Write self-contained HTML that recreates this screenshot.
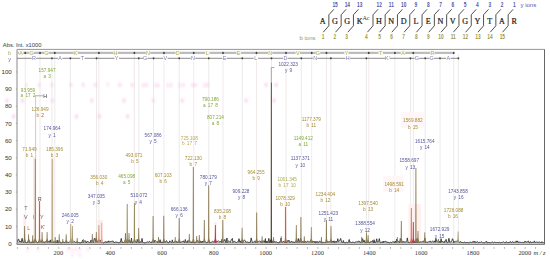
<!DOCTYPE html>
<html><head><meta charset="utf-8"><style>
html,body{margin:0;padding:0;background:#fff;width:550px;height:259px;overflow:hidden}
svg{display:block}
</style></head><body>
<svg width="550" height="259" viewBox="0 0 550 259">
<defs><filter id="bl" x="-5%" y="-5%" width="110%" height="110%"><feGaussianBlur stdDeviation="0.8"/></filter></defs>
<rect width="550" height="259" fill="#fff"/>
<text transform="translate(322.70,24.3) scale(0.9,1)" font-family='"Liberation Serif", serif' font-weight="normal" font-size="9.0" fill="#222" stroke="#222" stroke-width="0.25" text-anchor="middle">A</text>
<text transform="translate(335.00,24.3) scale(0.9,1)" font-family='"Liberation Serif", serif' font-weight="normal" font-size="9.0" fill="#222" stroke="#222" stroke-width="0.25" text-anchor="middle">G</text>
<text transform="translate(347.30,24.3) scale(0.9,1)" font-family='"Liberation Serif", serif' font-weight="normal" font-size="9.0" fill="#222" stroke="#222" stroke-width="0.25" text-anchor="middle">G</text>
<text transform="translate(359.60,24.3) scale(0.9,1)" font-family='"Liberation Serif", serif' font-weight="normal" font-size="9.0" fill="#222" stroke="#222" stroke-width="0.25" text-anchor="middle">K</text>
<text transform="translate(379.00,24.3) scale(0.9,1)" font-family='"Liberation Serif", serif' font-weight="normal" font-size="9.0" fill="#222" stroke="#222" stroke-width="0.25" text-anchor="middle">H</text>
<text transform="translate(391.30,24.3) scale(0.9,1)" font-family='"Liberation Serif", serif' font-weight="normal" font-size="9.0" fill="#222" stroke="#222" stroke-width="0.25" text-anchor="middle">N</text>
<text transform="translate(403.60,24.3) scale(0.9,1)" font-family='"Liberation Serif", serif' font-weight="normal" font-size="9.0" fill="#222" stroke="#222" stroke-width="0.25" text-anchor="middle">D</text>
<text transform="translate(415.90,24.3) scale(0.9,1)" font-family='"Liberation Serif", serif' font-weight="normal" font-size="9.0" fill="#222" stroke="#222" stroke-width="0.25" text-anchor="middle">L</text>
<text transform="translate(428.20,24.3) scale(0.9,1)" font-family='"Liberation Serif", serif' font-weight="normal" font-size="9.0" fill="#222" stroke="#222" stroke-width="0.25" text-anchor="middle">E</text>
<text transform="translate(440.50,24.3) scale(0.9,1)" font-family='"Liberation Serif", serif' font-weight="normal" font-size="9.0" fill="#222" stroke="#222" stroke-width="0.25" text-anchor="middle">N</text>
<text transform="translate(452.80,24.3) scale(0.9,1)" font-family='"Liberation Serif", serif' font-weight="normal" font-size="9.0" fill="#222" stroke="#222" stroke-width="0.25" text-anchor="middle">V</text>
<text transform="translate(465.10,24.3) scale(0.9,1)" font-family='"Liberation Serif", serif' font-weight="normal" font-size="9.0" fill="#222" stroke="#222" stroke-width="0.25" text-anchor="middle">G</text>
<text transform="translate(477.40,24.3) scale(0.9,1)" font-family='"Liberation Serif", serif' font-weight="normal" font-size="9.0" fill="#222" stroke="#222" stroke-width="0.25" text-anchor="middle">Y</text>
<text transform="translate(489.70,24.3) scale(0.9,1)" font-family='"Liberation Serif", serif' font-weight="normal" font-size="9.0" fill="#222" stroke="#222" stroke-width="0.25" text-anchor="middle">T</text>
<text transform="translate(502.00,24.3) scale(0.9,1)" font-family='"Liberation Serif", serif' font-weight="normal" font-size="9.0" fill="#222" stroke="#222" stroke-width="0.25" text-anchor="middle">A</text>
<text transform="translate(514.30,24.3) scale(0.9,1)" font-family='"Liberation Serif", serif' font-weight="normal" font-size="9.0" fill="#222" stroke="#222" stroke-width="0.25" text-anchor="middle">R</text>
<text x="362.4" y="20.2" font-family='"Liberation Serif", serif' font-size="6.2" fill="#3a3a3a">Ac</text>
<polyline points="333.85,9.3 328.85,14.8 328.85,25.8 323.25,32.2" fill="none" stroke="#505050" stroke-width="1.0"/>
<text transform="translate(335.05,7.0) scale(0.72,1)" font-family='"Liberation Sans", sans-serif' font-weight="bold" font-size="6.7" fill="#5656a8" text-anchor="middle">15</text>
<text transform="translate(323.00,39.4) scale(0.72,1)" font-family='"Liberation Sans", sans-serif' font-weight="bold" font-size="6.7" fill="#a09848" text-anchor="middle">1</text>
<polyline points="346.15,9.3 341.15,14.8 341.15,25.8 335.55,32.2" fill="none" stroke="#505050" stroke-width="1.0"/>
<text transform="translate(347.35,7.0) scale(0.72,1)" font-family='"Liberation Sans", sans-serif' font-weight="bold" font-size="6.7" fill="#5656a8" text-anchor="middle">14</text>
<text transform="translate(334.80,39.4) scale(0.72,1)" font-family='"Liberation Sans", sans-serif' font-weight="bold" font-size="6.7" fill="#a09848" text-anchor="middle">2</text>
<polyline points="358.45,9.3 353.45,14.8 353.45,25.8 347.85,32.2" fill="none" stroke="#505050" stroke-width="1.0"/>
<text transform="translate(359.65,7.0) scale(0.72,1)" font-family='"Liberation Sans", sans-serif' font-weight="bold" font-size="6.7" fill="#5656a8" text-anchor="middle">13</text>
<text transform="translate(346.50,39.4) scale(0.72,1)" font-family='"Liberation Sans", sans-serif' font-weight="bold" font-size="6.7" fill="#a09848" text-anchor="middle">3</text>
<polyline points="378.00,9.3 373.00,14.8 373.00,25.8 367.40,32.2" fill="none" stroke="#505050" stroke-width="1.0"/>
<text transform="translate(379.20,7.0) scale(0.72,1)" font-family='"Liberation Sans", sans-serif' font-weight="bold" font-size="6.7" fill="#5656a8" text-anchor="middle">12</text>
<text transform="translate(366.30,39.4) scale(0.72,1)" font-family='"Liberation Sans", sans-serif' font-weight="bold" font-size="6.7" fill="#a09848" text-anchor="middle">4</text>
<polyline points="390.15,9.3 385.15,14.8 385.15,25.8 379.55,32.2" fill="none" stroke="#505050" stroke-width="1.0"/>
<text transform="translate(391.35,7.0) scale(0.72,1)" font-family='"Liberation Sans", sans-serif' font-weight="bold" font-size="6.7" fill="#5656a8" text-anchor="middle">11</text>
<text transform="translate(379.60,39.4) scale(0.72,1)" font-family='"Liberation Sans", sans-serif' font-weight="bold" font-size="6.7" fill="#a09848" text-anchor="middle">5</text>
<polyline points="402.45,9.3 397.45,14.8 397.45,25.8 391.85,32.2" fill="none" stroke="#505050" stroke-width="1.0"/>
<text transform="translate(403.65,7.0) scale(0.72,1)" font-family='"Liberation Sans", sans-serif' font-weight="bold" font-size="6.7" fill="#5656a8" text-anchor="middle">10</text>
<text transform="translate(391.50,39.4) scale(0.72,1)" font-family='"Liberation Sans", sans-serif' font-weight="bold" font-size="6.7" fill="#a09848" text-anchor="middle">6</text>
<polyline points="414.75,9.3 409.75,14.8 409.75,25.8 404.15,32.2" fill="none" stroke="#505050" stroke-width="1.0"/>
<text transform="translate(415.95,7.0) scale(0.72,1)" font-family='"Liberation Sans", sans-serif' font-weight="bold" font-size="6.7" fill="#5656a8" text-anchor="middle">9</text>
<text transform="translate(403.70,39.4) scale(0.72,1)" font-family='"Liberation Sans", sans-serif' font-weight="bold" font-size="6.7" fill="#a09848" text-anchor="middle">7</text>
<polyline points="427.05,9.3 422.05,14.8 422.05,25.8 416.45,32.2" fill="none" stroke="#505050" stroke-width="1.0"/>
<text transform="translate(428.25,7.0) scale(0.72,1)" font-family='"Liberation Sans", sans-serif' font-weight="bold" font-size="6.7" fill="#5656a8" text-anchor="middle">8</text>
<text transform="translate(416.30,39.4) scale(0.72,1)" font-family='"Liberation Sans", sans-serif' font-weight="bold" font-size="6.7" fill="#a09848" text-anchor="middle">8</text>
<polyline points="439.35,9.3 434.35,14.8 434.35,25.8 428.75,32.2" fill="none" stroke="#505050" stroke-width="1.0"/>
<text transform="translate(440.55,7.0) scale(0.72,1)" font-family='"Liberation Sans", sans-serif' font-weight="bold" font-size="6.7" fill="#5656a8" text-anchor="middle">7</text>
<text transform="translate(428.30,39.4) scale(0.72,1)" font-family='"Liberation Sans", sans-serif' font-weight="bold" font-size="6.7" fill="#a09848" text-anchor="middle">9</text>
<polyline points="451.65,9.3 446.65,14.8 446.65,25.8 441.05,32.2" fill="none" stroke="#505050" stroke-width="1.0"/>
<text transform="translate(452.85,7.0) scale(0.72,1)" font-family='"Liberation Sans", sans-serif' font-weight="bold" font-size="6.7" fill="#5656a8" text-anchor="middle">6</text>
<text transform="translate(440.90,39.4) scale(0.72,1)" font-family='"Liberation Sans", sans-serif' font-weight="bold" font-size="6.7" fill="#a09848" text-anchor="middle">10</text>
<polyline points="463.95,9.3 458.95,14.8 458.95,25.8 453.35,32.2" fill="none" stroke="#505050" stroke-width="1.0"/>
<text transform="translate(465.15,7.0) scale(0.72,1)" font-family='"Liberation Sans", sans-serif' font-weight="bold" font-size="6.7" fill="#5656a8" text-anchor="middle">5</text>
<text transform="translate(453.20,39.4) scale(0.72,1)" font-family='"Liberation Sans", sans-serif' font-weight="bold" font-size="6.7" fill="#a09848" text-anchor="middle">11</text>
<polyline points="476.25,9.3 471.25,14.8 471.25,25.8 465.65,32.2" fill="none" stroke="#505050" stroke-width="1.0"/>
<text transform="translate(477.45,7.0) scale(0.72,1)" font-family='"Liberation Sans", sans-serif' font-weight="bold" font-size="6.7" fill="#5656a8" text-anchor="middle">4</text>
<text transform="translate(465.50,39.4) scale(0.72,1)" font-family='"Liberation Sans", sans-serif' font-weight="bold" font-size="6.7" fill="#a09848" text-anchor="middle">12</text>
<polyline points="488.55,9.3 483.55,14.8 483.55,25.8 477.95,32.2" fill="none" stroke="#505050" stroke-width="1.0"/>
<text transform="translate(489.75,7.0) scale(0.72,1)" font-family='"Liberation Sans", sans-serif' font-weight="bold" font-size="6.7" fill="#5656a8" text-anchor="middle">3</text>
<text transform="translate(478.00,39.4) scale(0.72,1)" font-family='"Liberation Sans", sans-serif' font-weight="bold" font-size="6.7" fill="#a09848" text-anchor="middle">13</text>
<polyline points="500.85,9.3 495.85,14.8 495.85,25.8 490.25,32.2" fill="none" stroke="#505050" stroke-width="1.0"/>
<text transform="translate(502.05,7.0) scale(0.72,1)" font-family='"Liberation Sans", sans-serif' font-weight="bold" font-size="6.7" fill="#5656a8" text-anchor="middle">2</text>
<text transform="translate(489.90,39.4) scale(0.72,1)" font-family='"Liberation Sans", sans-serif' font-weight="bold" font-size="6.7" fill="#a09848" text-anchor="middle">14</text>
<polyline points="513.15,9.3 508.15,14.8 508.15,25.8 502.55,32.2" fill="none" stroke="#505050" stroke-width="1.0"/>
<text transform="translate(514.35,7.0) scale(0.72,1)" font-family='"Liberation Sans", sans-serif' font-weight="bold" font-size="6.7" fill="#5656a8" text-anchor="middle">1</text>
<text transform="translate(502.30,39.4) scale(0.72,1)" font-family='"Liberation Sans", sans-serif' font-weight="bold" font-size="6.7" fill="#a09848" text-anchor="middle">15</text>
<text x="299.5" y="39.6" font-family='"Liberation Sans", sans-serif' font-size="6" fill="#a09848">b ions</text>
<text x="520.5" y="7.3" font-family='"Liberation Sans", sans-serif' font-size="6" fill="#5656a8">y ions</text>
<text x="2.8" y="46.9" font-family='"Liberation Sans", sans-serif' font-size="5.8" fill="#3a3a3a">Abs. Int. x1000</text>
<text x="11.8" y="245.80" font-family='"Liberation Sans", sans-serif' font-size="6.2" fill="#333" text-anchor="end">0</text>
<line x1="15.8" y1="243.60" x2="17" y2="243.60" stroke="#888" stroke-width="0.6"/>
<text x="11.8" y="228.63" font-family='"Liberation Sans", sans-serif' font-size="6.2" fill="#333" text-anchor="end">10</text>
<line x1="15.8" y1="226.43" x2="17" y2="226.43" stroke="#888" stroke-width="0.6"/>
<text x="11.8" y="211.46" font-family='"Liberation Sans", sans-serif' font-size="6.2" fill="#333" text-anchor="end">20</text>
<line x1="15.8" y1="209.26" x2="17" y2="209.26" stroke="#888" stroke-width="0.6"/>
<text x="11.8" y="194.29" font-family='"Liberation Sans", sans-serif' font-size="6.2" fill="#333" text-anchor="end">30</text>
<line x1="15.8" y1="192.09" x2="17" y2="192.09" stroke="#888" stroke-width="0.6"/>
<text x="11.8" y="177.12" font-family='"Liberation Sans", sans-serif' font-size="6.2" fill="#333" text-anchor="end">40</text>
<line x1="15.8" y1="174.92" x2="17" y2="174.92" stroke="#888" stroke-width="0.6"/>
<text x="11.8" y="159.95" font-family='"Liberation Sans", sans-serif' font-size="6.2" fill="#333" text-anchor="end">50</text>
<line x1="15.8" y1="157.75" x2="17" y2="157.75" stroke="#888" stroke-width="0.6"/>
<text x="11.8" y="142.78" font-family='"Liberation Sans", sans-serif' font-size="6.2" fill="#333" text-anchor="end">60</text>
<line x1="15.8" y1="140.58" x2="17" y2="140.58" stroke="#888" stroke-width="0.6"/>
<text x="11.8" y="125.61" font-family='"Liberation Sans", sans-serif' font-size="6.2" fill="#333" text-anchor="end">70</text>
<line x1="15.8" y1="123.41" x2="17" y2="123.41" stroke="#888" stroke-width="0.6"/>
<text x="11.8" y="108.44" font-family='"Liberation Sans", sans-serif' font-size="6.2" fill="#333" text-anchor="end">80</text>
<line x1="15.8" y1="106.24" x2="17" y2="106.24" stroke="#888" stroke-width="0.6"/>
<text x="11.8" y="91.27" font-family='"Liberation Sans", sans-serif' font-size="6.2" fill="#333" text-anchor="end">90</text>
<line x1="15.8" y1="89.07" x2="17" y2="89.07" stroke="#888" stroke-width="0.6"/>
<text x="11.8" y="74.10" font-family='"Liberation Sans", sans-serif' font-size="6.2" fill="#333" text-anchor="end">100</text>
<line x1="15.8" y1="71.90" x2="17" y2="71.90" stroke="#888" stroke-width="0.6"/>
<line x1="17.34" y1="247.0" x2="17.34" y2="248.9" stroke="#999" stroke-width="0.7"/>
<line x1="27.71" y1="247.0" x2="27.71" y2="248.9" stroke="#999" stroke-width="0.7"/>
<line x1="38.07" y1="247.0" x2="38.07" y2="248.9" stroke="#999" stroke-width="0.7"/>
<line x1="48.44" y1="247.0" x2="48.44" y2="248.9" stroke="#999" stroke-width="0.7"/>
<line x1="58.80" y1="247.0" x2="58.80" y2="248.9" stroke="#999" stroke-width="0.7"/>
<line x1="69.16" y1="247.0" x2="69.16" y2="248.9" stroke="#999" stroke-width="0.7"/>
<line x1="79.53" y1="247.0" x2="79.53" y2="248.9" stroke="#999" stroke-width="0.7"/>
<line x1="89.89" y1="247.0" x2="89.89" y2="248.9" stroke="#999" stroke-width="0.7"/>
<line x1="100.26" y1="247.0" x2="100.26" y2="248.9" stroke="#999" stroke-width="0.7"/>
<line x1="110.62" y1="247.0" x2="110.62" y2="248.9" stroke="#999" stroke-width="0.7"/>
<line x1="120.98" y1="247.0" x2="120.98" y2="248.9" stroke="#999" stroke-width="0.7"/>
<line x1="131.35" y1="247.0" x2="131.35" y2="248.9" stroke="#999" stroke-width="0.7"/>
<line x1="141.71" y1="247.0" x2="141.71" y2="248.9" stroke="#999" stroke-width="0.7"/>
<line x1="152.08" y1="247.0" x2="152.08" y2="248.9" stroke="#999" stroke-width="0.7"/>
<line x1="162.44" y1="247.0" x2="162.44" y2="248.9" stroke="#999" stroke-width="0.7"/>
<line x1="172.80" y1="247.0" x2="172.80" y2="248.9" stroke="#999" stroke-width="0.7"/>
<line x1="183.17" y1="247.0" x2="183.17" y2="248.9" stroke="#999" stroke-width="0.7"/>
<line x1="193.53" y1="247.0" x2="193.53" y2="248.9" stroke="#999" stroke-width="0.7"/>
<line x1="203.90" y1="247.0" x2="203.90" y2="248.9" stroke="#999" stroke-width="0.7"/>
<line x1="214.26" y1="247.0" x2="214.26" y2="248.9" stroke="#999" stroke-width="0.7"/>
<line x1="224.62" y1="247.0" x2="224.62" y2="248.9" stroke="#999" stroke-width="0.7"/>
<line x1="234.99" y1="247.0" x2="234.99" y2="248.9" stroke="#999" stroke-width="0.7"/>
<line x1="245.35" y1="247.0" x2="245.35" y2="248.9" stroke="#999" stroke-width="0.7"/>
<line x1="255.72" y1="247.0" x2="255.72" y2="248.9" stroke="#999" stroke-width="0.7"/>
<line x1="266.08" y1="247.0" x2="266.08" y2="248.9" stroke="#999" stroke-width="0.7"/>
<line x1="276.44" y1="247.0" x2="276.44" y2="248.9" stroke="#999" stroke-width="0.7"/>
<line x1="286.81" y1="247.0" x2="286.81" y2="248.9" stroke="#999" stroke-width="0.7"/>
<line x1="297.17" y1="247.0" x2="297.17" y2="248.9" stroke="#999" stroke-width="0.7"/>
<line x1="307.54" y1="247.0" x2="307.54" y2="248.9" stroke="#999" stroke-width="0.7"/>
<line x1="317.90" y1="247.0" x2="317.90" y2="248.9" stroke="#999" stroke-width="0.7"/>
<line x1="328.26" y1="247.0" x2="328.26" y2="248.9" stroke="#999" stroke-width="0.7"/>
<line x1="338.63" y1="247.0" x2="338.63" y2="248.9" stroke="#999" stroke-width="0.7"/>
<line x1="348.99" y1="247.0" x2="348.99" y2="248.9" stroke="#999" stroke-width="0.7"/>
<line x1="359.36" y1="247.0" x2="359.36" y2="248.9" stroke="#999" stroke-width="0.7"/>
<line x1="369.72" y1="247.0" x2="369.72" y2="248.9" stroke="#999" stroke-width="0.7"/>
<line x1="380.08" y1="247.0" x2="380.08" y2="248.9" stroke="#999" stroke-width="0.7"/>
<line x1="390.45" y1="247.0" x2="390.45" y2="248.9" stroke="#999" stroke-width="0.7"/>
<line x1="400.81" y1="247.0" x2="400.81" y2="248.9" stroke="#999" stroke-width="0.7"/>
<line x1="411.18" y1="247.0" x2="411.18" y2="248.9" stroke="#999" stroke-width="0.7"/>
<line x1="421.54" y1="247.0" x2="421.54" y2="248.9" stroke="#999" stroke-width="0.7"/>
<line x1="431.90" y1="247.0" x2="431.90" y2="248.9" stroke="#999" stroke-width="0.7"/>
<line x1="442.27" y1="247.0" x2="442.27" y2="248.9" stroke="#999" stroke-width="0.7"/>
<line x1="452.63" y1="247.0" x2="452.63" y2="248.9" stroke="#999" stroke-width="0.7"/>
<line x1="463.00" y1="247.0" x2="463.00" y2="248.9" stroke="#999" stroke-width="0.7"/>
<line x1="473.36" y1="247.0" x2="473.36" y2="248.9" stroke="#999" stroke-width="0.7"/>
<line x1="483.72" y1="247.0" x2="483.72" y2="248.9" stroke="#999" stroke-width="0.7"/>
<line x1="494.09" y1="247.0" x2="494.09" y2="248.9" stroke="#999" stroke-width="0.7"/>
<line x1="504.45" y1="247.0" x2="504.45" y2="248.9" stroke="#999" stroke-width="0.7"/>
<line x1="514.82" y1="247.0" x2="514.82" y2="248.9" stroke="#999" stroke-width="0.7"/>
<line x1="525.18" y1="247.0" x2="525.18" y2="248.9" stroke="#999" stroke-width="0.7"/>
<line x1="535.54" y1="247.0" x2="535.54" y2="248.9" stroke="#999" stroke-width="0.7"/>
<text x="58.40" y="255.4" font-family='"Liberation Serif", serif' font-size="6.4" fill="#333" text-anchor="middle">200</text>
<text x="110.22" y="255.4" font-family='"Liberation Serif", serif' font-size="6.4" fill="#333" text-anchor="middle">400</text>
<text x="162.04" y="255.4" font-family='"Liberation Serif", serif' font-size="6.4" fill="#333" text-anchor="middle">600</text>
<text x="213.86" y="255.4" font-family='"Liberation Serif", serif' font-size="6.4" fill="#333" text-anchor="middle">800</text>
<text x="265.68" y="255.4" font-family='"Liberation Serif", serif' font-size="6.4" fill="#333" text-anchor="middle">1000</text>
<text x="317.50" y="255.4" font-family='"Liberation Serif", serif' font-size="6.4" fill="#333" text-anchor="middle">1200</text>
<text x="369.32" y="255.4" font-family='"Liberation Serif", serif' font-size="6.4" fill="#333" text-anchor="middle">1400</text>
<text x="421.14" y="255.4" font-family='"Liberation Serif", serif' font-size="6.4" fill="#333" text-anchor="middle">1600</text>
<text x="472.96" y="255.4" font-family='"Liberation Serif", serif' font-size="6.4" fill="#333" text-anchor="middle">1800</text>
<text x="524.78" y="255.4" font-family='"Liberation Serif", serif' font-size="6.4" fill="#333" text-anchor="middle">2000</text>
<text x="533.5" y="255.4" font-family='"Liberation Serif", serif' font-style="italic" font-size="6.4" fill="#333">m / z</text>
<line x1="51.95" y1="59" x2="51.95" y2="243" stroke="#e5e5e5" stroke-width="0.8"/>
<line x1="70.36" y1="59" x2="70.36" y2="243" stroke="#e5e5e5" stroke-width="0.8"/>
<line x1="96.54" y1="59" x2="96.54" y2="243" stroke="#e5e5e5" stroke-width="0.8"/>
<line x1="138.79" y1="59" x2="138.79" y2="243" stroke="#e5e5e5" stroke-width="0.8"/>
<line x1="153.56" y1="59" x2="153.56" y2="243" stroke="#e5e5e5" stroke-width="0.8"/>
<line x1="179.23" y1="59" x2="179.23" y2="243" stroke="#e5e5e5" stroke-width="0.8"/>
<line x1="208.78" y1="59" x2="208.78" y2="243" stroke="#e5e5e5" stroke-width="0.8"/>
<line x1="242.22" y1="59" x2="242.22" y2="243" stroke="#e5e5e5" stroke-width="0.8"/>
<line x1="271.52" y1="59" x2="271.52" y2="243" stroke="#e5e5e5" stroke-width="0.8"/>
<line x1="301.32" y1="59" x2="301.32" y2="243" stroke="#e5e5e5" stroke-width="0.8"/>
<line x1="330.87" y1="59" x2="330.87" y2="243" stroke="#e5e5e5" stroke-width="0.8"/>
<line x1="366.38" y1="59" x2="366.38" y2="243" stroke="#e5e5e5" stroke-width="0.8"/>
<line x1="410.45" y1="59" x2="410.45" y2="243" stroke="#e5e5e5" stroke-width="0.8"/>
<line x1="425.23" y1="59" x2="425.23" y2="243" stroke="#e5e5e5" stroke-width="0.8"/>
<line x1="440.00" y1="59" x2="440.00" y2="243" stroke="#e5e5e5" stroke-width="0.8"/>
<line x1="25.25" y1="54" x2="25.25" y2="243" stroke="#ede3e5" stroke-width="0.8"/>
<line x1="40.02" y1="54" x2="40.02" y2="243" stroke="#ede3e5" stroke-width="0.8"/>
<line x1="54.80" y1="54" x2="54.80" y2="243" stroke="#ede3e5" stroke-width="0.8"/>
<line x1="98.87" y1="54" x2="98.87" y2="243" stroke="#ede3e5" stroke-width="0.8"/>
<line x1="134.38" y1="54" x2="134.38" y2="243" stroke="#ede3e5" stroke-width="0.8"/>
<line x1="163.93" y1="54" x2="163.93" y2="243" stroke="#ede3e5" stroke-width="0.8"/>
<line x1="193.73" y1="54" x2="193.73" y2="243" stroke="#ede3e5" stroke-width="0.8"/>
<line x1="223.03" y1="54" x2="223.03" y2="243" stroke="#ede3e5" stroke-width="0.8"/>
<line x1="256.47" y1="54" x2="256.47" y2="243" stroke="#ede3e5" stroke-width="0.8"/>
<line x1="286.02" y1="54" x2="286.02" y2="243" stroke="#ede3e5" stroke-width="0.8"/>
<line x1="311.69" y1="54" x2="311.69" y2="243" stroke="#ede3e5" stroke-width="0.8"/>
<line x1="326.46" y1="54" x2="326.46" y2="243" stroke="#ede3e5" stroke-width="0.8"/>
<line x1="368.71" y1="54" x2="368.71" y2="243" stroke="#ede3e5" stroke-width="0.8"/>
<line x1="394.89" y1="54" x2="394.89" y2="243" stroke="#ede3e5" stroke-width="0.8"/>
<line x1="413.30" y1="54" x2="413.30" y2="243" stroke="#ede3e5" stroke-width="0.8"/>
<line x1="453.74" y1="54" x2="453.74" y2="243" stroke="#e6e6e6" stroke-width="0.8"/>
<line x1="458.41" y1="54" x2="458.41" y2="243" stroke="#e6e6e6" stroke-width="0.8"/>
<g filter="url(#bl)">
<text x="26.75" y="87.1" font-family='"Liberation Sans", sans-serif' font-size="6" fill="#f4b4e4" text-anchor="middle">1</text>
<text x="39.05" y="87.1" font-family='"Liberation Sans", sans-serif' font-size="6" fill="#f4b4e4" text-anchor="middle">2</text>
<text x="51.35" y="87.1" font-family='"Liberation Sans", sans-serif' font-size="6" fill="#f4b4e4" text-anchor="middle">3</text>
<text x="70.90" y="87.1" font-family='"Liberation Sans", sans-serif' font-size="6" fill="#f4b4e4" text-anchor="middle">4</text>
<text x="83.05" y="87.1" font-family='"Liberation Sans", sans-serif' font-size="6" fill="#f4b4e4" text-anchor="middle">5</text>
<text x="95.35" y="87.1" font-family='"Liberation Sans", sans-serif' font-size="6" fill="#f4b4e4" text-anchor="middle">6</text>
<text x="107.65" y="87.1" font-family='"Liberation Sans", sans-serif' font-size="6" fill="#f4b4e4" text-anchor="middle">7</text>
<text x="119.95" y="87.1" font-family='"Liberation Sans", sans-serif' font-size="6" fill="#f4b4e4" text-anchor="middle">8</text>
<text x="132.25" y="87.1" font-family='"Liberation Sans", sans-serif' font-size="6" fill="#f4b4e4" text-anchor="middle">9</text>
<text x="144.55" y="87.1" font-family='"Liberation Sans", sans-serif' font-size="6" fill="#f4b4e4" text-anchor="middle">10</text>
<text x="156.85" y="87.1" font-family='"Liberation Sans", sans-serif' font-size="6" fill="#f4b4e4" text-anchor="middle">11</text>
<text x="169.15" y="87.1" font-family='"Liberation Sans", sans-serif' font-size="6" fill="#f4b4e4" text-anchor="middle">12</text>
<text x="181.45" y="87.1" font-family='"Liberation Sans", sans-serif' font-size="6" fill="#f4b4e4" text-anchor="middle">13</text>
<text x="193.75" y="87.1" font-family='"Liberation Sans", sans-serif' font-size="6" fill="#f4b4e4" text-anchor="middle">14</text>
<text x="206.05" y="87.1" font-family='"Liberation Sans", sans-serif' font-size="6" fill="#f4b4e4" text-anchor="middle">15</text>
<ellipse cx="28" cy="249.5" rx="1.6" ry="2.4" fill="#fad2ee" opacity="0.45"/>
<ellipse cx="38" cy="249.5" rx="1.6" ry="2.4" fill="#fad2ee" opacity="0.45"/>
<ellipse cx="68" cy="249.5" rx="1.6" ry="2.4" fill="#fad2ee" opacity="0.45"/>
<ellipse cx="72" cy="249.5" rx="1.6" ry="2.4" fill="#fad2ee" opacity="0.45"/>
<ellipse cx="76" cy="249.5" rx="1.6" ry="2.4" fill="#fad2ee" opacity="0.45"/>
<ellipse cx="80" cy="249.5" rx="1.6" ry="2.4" fill="#fad2ee" opacity="0.45"/>
<ellipse cx="88" cy="249.5" rx="1.6" ry="2.4" fill="#fad2ee" opacity="0.45"/>
<ellipse cx="72.4" cy="255" rx="1.6" ry="2.4" fill="#fad2ee" opacity="0.45"/>
<ellipse cx="79.7" cy="255" rx="1.6" ry="2.4" fill="#fad2ee" opacity="0.45"/>
<ellipse cx="266.1" cy="85" rx="1.6" ry="2.4" fill="#fad2ee" opacity="0.9"/>
<ellipse cx="276.2" cy="85" rx="1.6" ry="2.4" fill="#fad2ee" opacity="0.9"/>
<ellipse cx="7.1" cy="100.6" rx="1.6" ry="2.4" fill="#fad2ee" opacity="0.9"/>
<ellipse cx="22.4" cy="100.6" rx="1.6" ry="2.4" fill="#fad2ee" opacity="0.9"/>
<ellipse cx="52.3" cy="100.6" rx="1.6" ry="2.4" fill="#fad2ee" opacity="0.9"/>
<ellipse cx="91.8" cy="100.6" rx="1.6" ry="2.4" fill="#fad2ee" opacity="0.9"/>
<ellipse cx="124" cy="100.6" rx="1.6" ry="2.4" fill="#fad2ee" opacity="0.9"/>
<ellipse cx="153.3" cy="100.6" rx="1.6" ry="2.4" fill="#fad2ee" opacity="0.9"/>
<ellipse cx="182.2" cy="100.6" rx="1.6" ry="2.4" fill="#fad2ee" opacity="0.9"/>
<ellipse cx="246.1" cy="100.6" rx="1.6" ry="2.4" fill="#fad2ee" opacity="0.9"/>
<ellipse cx="274.2" cy="100.6" rx="1.6" ry="2.4" fill="#fad2ee" opacity="0.9"/>
<ellipse cx="13.6" cy="116.5" rx="1.6" ry="2.4" fill="#fad2ee" opacity="0.9"/>
<ellipse cx="76.5" cy="116.5" rx="1.6" ry="2.4" fill="#fad2ee" opacity="0.9"/>
<ellipse cx="99.5" cy="116.5" rx="1.6" ry="2.4" fill="#fad2ee" opacity="0.9"/>
<ellipse cx="127.6" cy="116.5" rx="1.6" ry="2.4" fill="#fad2ee" opacity="0.9"/>
</g>
<rect x="23.4" y="214" width="2.60" height="28.60" fill="#fcebe8"/>
<rect x="33.0" y="157" width="3.30" height="85.60" fill="#fcebe8"/>
<rect x="38.2" y="199" width="2.60" height="43.60" fill="#fcebe8"/>
<rect x="50.8" y="157" width="3.00" height="85.60" fill="#fcebe8"/>
<rect x="97.5" y="220" width="5.40" height="22.60" fill="#fcebe8"/>
<rect x="284.4" y="204" width="2.60" height="38.60" fill="#fcebe8"/>
<rect x="214.2" y="222" width="2.40" height="20.60" fill="#fcebe8"/>
<rect x="408.5" y="204" width="12.5" height="38.6" fill="#fdf0ee"/>
<rect x="383.3" y="175.8" width="20.30" height="16.20" fill="#fff6f8"/>
<rect x="401" y="112" width="23.00" height="16.00" fill="#fff6f8"/>
<line x1="17.0" y1="49.4" x2="544.5" y2="49.4" stroke="#8a8a8a" stroke-width="0.9"/>
<line x1="17.0" y1="49.4" x2="17.0" y2="244.5" stroke="#8a8a8a" stroke-width="1"/>
<line x1="544.5" y1="49.4" x2="544.5" y2="244.5" stroke="#555" stroke-width="0.9"/>
<line x1="17.0" y1="244.5" x2="544.5" y2="244.5" stroke="#777" stroke-width="0.9"/>
<line x1="17.0" y1="52.9" x2="453.74" y2="52.9" stroke="#bdbdbd" stroke-width="2.2"/>
<line x1="17.0" y1="58.3" x2="458.41" y2="58.3" stroke="#6e6e6e" stroke-width="0.8"/>
<text x="9.6" y="55.2" font-family='"Liberation Sans", sans-serif' font-size="5.5" fill="#b0a860" text-anchor="middle">b</text>
<text x="9.7" y="60.6" font-family='"Liberation Sans", sans-serif' font-size="5.5" fill="#6a6ab0" text-anchor="middle">y</text>
<rect x="18.92" y="50.6" width="4.4" height="4.6" fill="#f8f8f0"/>
<text x="21.12" y="54.9" font-family='"Liberation Sans", sans-serif' font-size="5.4" fill="#b8ac60" text-anchor="middle">A</text>
<rect x="29.33" y="50.6" width="4.4" height="4.6" fill="#f8f8f0"/>
<text x="31.53" y="54.9" font-family='"Liberation Sans", sans-serif' font-size="5.4" fill="#b8ac60" text-anchor="middle">G</text>
<rect x="44.11" y="50.6" width="4.4" height="4.6" fill="#f8f8f0"/>
<text x="46.31" y="54.9" font-family='"Liberation Sans", sans-serif' font-size="5.4" fill="#b8ac60" text-anchor="middle">G</text>
<rect x="73.53" y="50.6" width="4.4" height="4.6" fill="#f8f8f0"/>
<text x="75.73" y="54.9" font-family='"Liberation Sans", sans-serif' font-size="5.4" fill="#b8ac60" text-anchor="middle">K'</text>
<rect x="113.33" y="50.6" width="4.4" height="4.6" fill="#f8f8f0"/>
<text x="115.53" y="54.9" font-family='"Liberation Sans", sans-serif' font-size="5.4" fill="#b8ac60" text-anchor="middle">H</text>
<rect x="145.86" y="50.6" width="4.4" height="4.6" fill="#f8f8f0"/>
<text x="148.06" y="54.9" font-family='"Liberation Sans", sans-serif' font-size="5.4" fill="#b8ac60" text-anchor="middle">N</text>
<rect x="175.53" y="50.6" width="4.4" height="4.6" fill="#f8f8f0"/>
<text x="177.73" y="54.9" font-family='"Liberation Sans", sans-serif' font-size="5.4" fill="#b8ac60" text-anchor="middle">D</text>
<rect x="205.08" y="50.6" width="4.4" height="4.6" fill="#f8f8f0"/>
<text x="207.28" y="54.9" font-family='"Liberation Sans", sans-serif' font-size="5.4" fill="#b8ac60" text-anchor="middle">L</text>
<rect x="236.45" y="50.6" width="4.4" height="4.6" fill="#f8f8f0"/>
<text x="238.65" y="54.9" font-family='"Liberation Sans", sans-serif' font-size="5.4" fill="#b8ac60" text-anchor="middle">E</text>
<rect x="267.94" y="50.6" width="4.4" height="4.6" fill="#f8f8f0"/>
<text x="270.14" y="54.9" font-family='"Liberation Sans", sans-serif' font-size="5.4" fill="#b8ac60" text-anchor="middle">N</text>
<rect x="295.55" y="50.6" width="4.4" height="4.6" fill="#f8f8f0"/>
<text x="297.75" y="54.9" font-family='"Liberation Sans", sans-serif' font-size="5.4" fill="#b8ac60" text-anchor="middle">V</text>
<rect x="315.77" y="50.6" width="4.4" height="4.6" fill="#f8f8f0"/>
<text x="317.97" y="54.9" font-family='"Liberation Sans", sans-serif' font-size="5.4" fill="#b8ac60" text-anchor="middle">G</text>
<rect x="344.28" y="50.6" width="4.4" height="4.6" fill="#f8f8f0"/>
<text x="346.48" y="54.9" font-family='"Liberation Sans", sans-serif' font-size="5.4" fill="#b8ac60" text-anchor="middle">Y</text>
<rect x="378.50" y="50.6" width="4.4" height="4.6" fill="#f8f8f0"/>
<text x="380.70" y="54.9" font-family='"Liberation Sans", sans-serif' font-size="5.4" fill="#b8ac60" text-anchor="middle">T</text>
<rect x="400.79" y="50.6" width="4.4" height="4.6" fill="#f8f8f0"/>
<text x="402.99" y="54.9" font-family='"Liberation Sans", sans-serif' font-size="5.4" fill="#b8ac60" text-anchor="middle">A</text>
<rect x="430.22" y="50.6" width="4.4" height="4.6" fill="#f8f8f0"/>
<text x="432.42" y="54.9" font-family='"Liberation Sans", sans-serif' font-size="5.4" fill="#b8ac60" text-anchor="middle">R</text>
<rect x="31.68" y="56" width="4.4" height="4.6" fill="#ffffff"/>
<text x="33.88" y="60.3" font-family='"Liberation Sans", sans-serif' font-size="5.4" fill="#7c7cc0" text-anchor="middle">R</text>
<rect x="57.96" y="56" width="4.4" height="4.6" fill="#ffffff"/>
<text x="60.16" y="60.3" font-family='"Liberation Sans", sans-serif' font-size="5.4" fill="#7c7cc0" text-anchor="middle">A</text>
<rect x="80.25" y="56" width="4.4" height="4.6" fill="#ffffff"/>
<text x="82.45" y="60.3" font-family='"Liberation Sans", sans-serif' font-size="5.4" fill="#7c7cc0" text-anchor="middle">T</text>
<rect x="114.47" y="56" width="4.4" height="4.6" fill="#ffffff"/>
<text x="116.67" y="60.3" font-family='"Liberation Sans", sans-serif' font-size="5.4" fill="#7c7cc0" text-anchor="middle">Y</text>
<rect x="142.98" y="56" width="4.4" height="4.6" fill="#ffffff"/>
<text x="145.18" y="60.3" font-family='"Liberation Sans", sans-serif' font-size="5.4" fill="#7c7cc0" text-anchor="middle">G</text>
<rect x="163.20" y="56" width="4.4" height="4.6" fill="#ffffff"/>
<text x="165.40" y="60.3" font-family='"Liberation Sans", sans-serif' font-size="5.4" fill="#7c7cc0" text-anchor="middle">V</text>
<rect x="190.81" y="56" width="4.4" height="4.6" fill="#ffffff"/>
<text x="193.01" y="60.3" font-family='"Liberation Sans", sans-serif' font-size="5.4" fill="#7c7cc0" text-anchor="middle">N</text>
<rect x="222.30" y="56" width="4.4" height="4.6" fill="#ffffff"/>
<text x="224.50" y="60.3" font-family='"Liberation Sans", sans-serif' font-size="5.4" fill="#7c7cc0" text-anchor="middle">E</text>
<rect x="253.67" y="56" width="4.4" height="4.6" fill="#ffffff"/>
<text x="255.87" y="60.3" font-family='"Liberation Sans", sans-serif' font-size="5.4" fill="#7c7cc0" text-anchor="middle">L</text>
<rect x="283.22" y="56" width="4.4" height="4.6" fill="#ffffff"/>
<text x="285.42" y="60.3" font-family='"Liberation Sans", sans-serif' font-size="5.4" fill="#7c7cc0" text-anchor="middle">D</text>
<rect x="312.89" y="56" width="4.4" height="4.6" fill="#ffffff"/>
<text x="315.09" y="60.3" font-family='"Liberation Sans", sans-serif' font-size="5.4" fill="#7c7cc0" text-anchor="middle">N</text>
<rect x="345.42" y="56" width="4.4" height="4.6" fill="#ffffff"/>
<text x="347.62" y="60.3" font-family='"Liberation Sans", sans-serif' font-size="5.4" fill="#7c7cc0" text-anchor="middle">H</text>
<rect x="385.22" y="56" width="4.4" height="4.6" fill="#ffffff"/>
<text x="387.42" y="60.3" font-family='"Liberation Sans", sans-serif' font-size="5.4" fill="#7c7cc0" text-anchor="middle">K'</text>
<rect x="414.64" y="56" width="4.4" height="4.6" fill="#ffffff"/>
<text x="416.84" y="60.3" font-family='"Liberation Sans", sans-serif' font-size="5.4" fill="#7c7cc0" text-anchor="middle">G</text>
<rect x="429.42" y="56" width="4.4" height="4.6" fill="#ffffff"/>
<text x="431.62" y="60.3" font-family='"Liberation Sans", sans-serif' font-size="5.4" fill="#7c7cc0" text-anchor="middle">G</text>
<rect x="446.01" y="56" width="4.4" height="4.6" fill="#ffffff"/>
<text x="448.21" y="60.3" font-family='"Liberation Sans", sans-serif' font-size="5.4" fill="#7c7cc0" text-anchor="middle">A</text>
<ellipse cx="25.25" cy="52.9" rx="0.9" ry="1.2" fill="#444"/>
<ellipse cx="40.02" cy="52.9" rx="0.9" ry="1.2" fill="#444"/>
<ellipse cx="54.80" cy="52.9" rx="0.9" ry="1.2" fill="#444"/>
<ellipse cx="98.87" cy="52.9" rx="0.9" ry="1.2" fill="#444"/>
<ellipse cx="134.38" cy="52.9" rx="0.9" ry="1.2" fill="#444"/>
<ellipse cx="163.93" cy="52.9" rx="0.9" ry="1.2" fill="#444"/>
<ellipse cx="193.73" cy="52.9" rx="0.9" ry="1.2" fill="#444"/>
<ellipse cx="223.03" cy="52.9" rx="0.9" ry="1.2" fill="#444"/>
<ellipse cx="256.47" cy="52.9" rx="0.9" ry="1.2" fill="#444"/>
<ellipse cx="286.02" cy="52.9" rx="0.9" ry="1.2" fill="#444"/>
<ellipse cx="311.69" cy="52.9" rx="0.9" ry="1.2" fill="#444"/>
<ellipse cx="326.46" cy="52.9" rx="0.9" ry="1.2" fill="#444"/>
<ellipse cx="368.71" cy="52.9" rx="0.9" ry="1.2" fill="#444"/>
<ellipse cx="394.89" cy="52.9" rx="0.9" ry="1.2" fill="#444"/>
<ellipse cx="413.30" cy="52.9" rx="0.9" ry="1.2" fill="#444"/>
<ellipse cx="453.74" cy="52.9" rx="0.9" ry="1.2" fill="#444"/>
<ellipse cx="51.95" cy="58.3" rx="0.9" ry="1.1" fill="#444"/>
<ellipse cx="70.36" cy="58.3" rx="0.9" ry="1.1" fill="#444"/>
<ellipse cx="96.54" cy="58.3" rx="0.9" ry="1.1" fill="#444"/>
<ellipse cx="138.79" cy="58.3" rx="0.9" ry="1.1" fill="#444"/>
<ellipse cx="153.56" cy="58.3" rx="0.9" ry="1.1" fill="#444"/>
<ellipse cx="179.23" cy="58.3" rx="0.9" ry="1.1" fill="#444"/>
<ellipse cx="208.78" cy="58.3" rx="0.9" ry="1.1" fill="#444"/>
<ellipse cx="242.22" cy="58.3" rx="0.9" ry="1.1" fill="#444"/>
<ellipse cx="271.52" cy="58.3" rx="0.9" ry="1.1" fill="#444"/>
<ellipse cx="301.32" cy="58.3" rx="0.9" ry="1.1" fill="#444"/>
<ellipse cx="330.87" cy="58.3" rx="0.9" ry="1.1" fill="#444"/>
<ellipse cx="366.38" cy="58.3" rx="0.9" ry="1.1" fill="#444"/>
<ellipse cx="410.45" cy="58.3" rx="0.9" ry="1.1" fill="#444"/>
<ellipse cx="425.23" cy="58.3" rx="0.9" ry="1.1" fill="#444"/>
<ellipse cx="440.00" cy="58.3" rx="0.9" ry="1.1" fill="#444"/>
<ellipse cx="458.41" cy="58.3" rx="0.9" ry="1.1" fill="#444"/>
<polyline points="17.5,241.7 18.2,239.3 18.9,239.4 19.3,241.8 19.8,241.0 20.3,241.2 21.2,242.4 22.1,238.3 22.7,241.8 23.3,242.2 24.0,242.4 24.7,240.7 25.2,242.4 25.8,242.5 26.4,242.7 26.9,242.5 27.8,242.3 28.7,239.6 29.5,241.4 29.9,242.8 30.6,242.3 31.4,242.6 32.1,242.9 32.7,242.1 33.5,243.0 34.3,241.5 35.1,239.5 35.6,240.7 36.4,241.6 37.0,242.1 37.7,242.9 38.5,242.3 39.1,240.9 40.0,241.7 40.6,241.4 41.3,241.9 41.9,241.3 42.8,242.5 43.5,242.1 44.4,242.9 45.2,241.5 45.7,242.1 46.2,241.7 46.8,240.9 47.3,239.8 47.7,242.6 48.3,241.5 48.9,241.0 49.8,242.5 50.3,239.9 50.8,242.2 51.3,242.5 51.8,242.0 52.5,242.9 53.2,241.5 53.8,242.5 54.6,241.7 55.4,242.9 56.2,242.7 56.8,242.4 57.2,240.1 57.8,243.0 58.4,243.0 59.3,241.7 59.9,241.7 60.6,242.8 61.3,242.8 61.8,242.9 62.6,242.5 63.1,242.3 63.9,242.4 64.5,242.7 65.1,241.7 65.9,242.1 66.7,242.7 67.3,242.1 67.8,242.6 68.5,242.4 69.3,242.2 69.9,241.6 70.6,241.4 71.1,242.4 71.8,242.9 72.4,242.5 73.1,242.0 73.7,241.9 74.6,241.4 75.3,242.3 76.0,242.8 76.5,242.2 77.1,242.5 77.8,242.9 78.4,242.5 79.1,242.5 79.8,242.9 80.6,242.9 81.1,242.9 82.0,241.8 82.6,240.2 83.1,242.8 84.0,241.1 84.7,240.9 85.6,240.9 86.2,243.0 87.0,241.4 87.7,241.7 88.3,242.0 89.0,241.9 89.6,242.5 90.1,242.8 91.0,240.1 91.4,242.3 92.0,240.9 92.8,241.7 93.6,242.7 94.1,238.8 94.8,238.1 95.5,242.1 96.3,238.3 97.0,241.3 97.9,241.8 98.5,241.8 99.1,240.3 99.7,241.1 100.2,242.2 100.8,240.1 101.3,242.6 101.8,242.9 102.3,242.4 103.0,242.4 103.7,243.0 104.3,242.7 105.0,241.5 105.5,241.8 106.3,241.7 106.8,242.9 107.5,241.6 108.1,242.2 108.8,240.8 109.6,242.2 110.5,241.5 111.0,241.4 111.7,241.3 112.1,241.8 112.7,240.8 113.3,241.3 114.0,242.7 114.8,242.4 115.4,242.1 116.2,242.0 117.0,242.6 117.8,242.1 118.5,242.8 119.3,242.6 120.1,242.7 120.7,240.5 121.3,238.4 122.0,242.6 122.7,242.0 123.5,242.5 124.2,242.1 125.0,241.8 125.6,242.2 126.4,242.5 127.0,242.7 127.8,242.6 128.3,241.6 129.1,241.3 129.5,240.1 130.3,242.7 130.8,242.5 131.5,238.2 132.0,242.9 132.5,242.8 133.4,241.6 133.9,242.2 134.6,241.3 135.5,241.0 136.2,242.7 136.8,242.5 137.2,239.4 137.9,241.7 138.5,241.0 138.9,242.8 139.4,242.7 140.3,241.5 140.9,242.6 141.5,241.6 142.0,238.4 142.6,242.2 143.1,242.2 143.8,242.9 144.6,242.9 145.5,242.7 145.9,242.5 146.7,242.3 147.2,242.1 147.8,241.6 148.6,242.3 149.4,241.3 150.0,241.7 150.5,242.5 151.1,243.0 151.7,241.7 152.2,241.8 152.8,241.3 153.6,242.4 154.3,242.4 154.9,240.1 155.8,241.3 156.5,242.2 157.1,241.5 157.7,242.8 158.6,240.8 159.3,242.5 160.1,239.7 160.9,242.9 161.8,241.8 162.3,242.7 163.2,242.6 164.0,242.6 164.5,242.2 165.3,242.3 165.8,241.2 166.6,240.7 167.3,242.4 167.8,242.0 168.4,243.0 169.2,242.5 169.7,240.8 170.5,241.9 171.2,242.4 171.7,242.9 172.3,239.9 172.9,242.2 173.7,242.5 174.3,242.3 175.1,241.7 175.9,240.9 176.6,241.7 177.2,242.9 177.7,241.7 178.6,241.8 179.1,240.9 179.9,243.0 180.8,241.7 181.7,242.0 182.4,241.5 183.0,241.9 183.6,240.8 184.1,242.2 184.7,242.8 185.3,239.5 186.0,242.2 186.6,242.0 187.2,242.8 187.7,240.7 188.5,241.1 189.4,241.6 190.3,242.3 191.0,241.6 191.5,242.9 192.2,242.0 192.8,243.0 193.7,241.6 194.3,242.9 194.8,242.7 195.7,242.6 196.3,241.5 197.1,240.3 197.9,241.8 198.3,242.3 199.2,243.0 199.8,240.6 200.5,242.4 201.0,241.2 201.8,242.8 202.5,241.0 203.1,242.4 203.9,241.6 204.4,240.9 205.1,241.5 206.0,242.2 206.9,243.0 207.4,242.8 208.2,242.0 208.8,240.3 209.7,242.9 210.3,242.4 210.8,242.9 211.3,242.6 211.9,241.7 212.4,241.2 213.2,241.9 213.8,242.2 214.4,241.0 215.1,240.6 215.7,242.6 216.2,241.1 216.8,241.6 217.7,241.3 218.3,240.9 219.2,241.7 220.0,241.9 220.8,241.0 221.5,242.5 222.0,239.2 222.7,242.1 223.5,241.3 224.0,241.3 224.8,239.4 225.6,242.2 226.2,243.0 226.8,238.1 227.4,242.6 228.3,241.0 228.8,241.0 229.6,241.7 230.3,242.4 230.8,241.1 231.6,239.2 232.4,238.4 232.9,242.6 233.7,241.4 234.4,241.2 235.0,241.9 235.7,242.2 236.5,242.5 237.1,242.1 237.6,241.8 238.2,242.0 239.0,238.7 239.8,242.1 240.4,240.9 241.0,243.0 241.7,242.2 242.6,243.0 243.5,241.0 244.4,239.8 245.1,240.9 245.7,242.1 246.4,242.2 247.0,242.3 247.4,241.7 248.3,242.9 248.8,242.1 249.5,242.4 250.4,242.6 251.2,237.9 251.9,241.0 252.5,242.6 253.1,242.4 253.6,242.0 254.5,241.2 255.4,242.7 256.0,240.8 256.5,242.4 257.1,242.1 257.7,242.0 258.2,241.8 258.8,241.3 259.5,241.2 260.1,240.9 260.7,241.8 261.4,242.8 262.1,241.9 262.8,242.4 263.5,240.9 264.3,240.9 264.8,242.4 265.4,238.6 265.8,242.9 266.3,241.2 267.0,242.8 267.5,241.6 268.0,242.8 268.8,238.4 269.6,242.7 270.2,241.8 270.8,239.9 271.6,242.8 272.3,241.3 273.0,242.5 273.5,243.0 274.1,242.0 274.7,241.1 275.5,242.3 276.4,241.6 277.2,242.7 278.0,242.5 278.8,242.9 279.5,242.6 280.0,241.2 280.5,242.1 281.0,238.1 281.6,241.9 282.1,242.6 282.8,242.1 283.6,241.0 284.4,242.1 285.2,242.9 285.7,241.8 286.2,242.8 286.9,242.6 287.5,240.6 288.3,241.5 288.9,240.1 289.5,242.4 290.1,242.5 290.9,242.0 291.6,241.0 292.2,242.5 292.7,242.1 293.5,241.9 294.1,243.0 294.5,242.5 295.3,241.4 295.9,242.3 296.8,241.7 297.6,242.1 298.3,238.5 299.1,242.6 299.7,241.5 300.5,238.2 301.0,241.6 301.9,242.4 302.7,241.4 303.4,242.8 304.1,241.5 304.7,242.7 305.4,241.4 306.2,242.1 306.9,242.2 307.4,241.1 308.3,241.7 308.8,241.3 309.3,241.7 310.2,242.1 311.1,239.7 312.0,242.7 312.7,241.2 313.2,241.5 313.6,241.0 314.4,242.6 315.0,241.2 315.7,242.9 316.3,242.7 317.0,241.1 317.8,242.7 318.6,242.6 319.3,241.2 319.8,241.0 320.6,242.3 321.2,242.6 321.8,242.9 322.4,242.8 323.0,243.0 323.5,242.2 324.3,242.5 324.7,242.5 325.5,242.6 326.3,242.4 327.2,241.1 327.8,242.1 328.7,241.8 329.3,241.9 330.0,241.1 330.6,241.7 331.3,242.5 331.9,242.4 332.4,241.0 333.3,242.5 334.0,240.8 334.6,242.8 335.4,242.3 336.1,241.0 336.7,242.3 337.3,241.4 337.8,238.7 338.4,241.6 339.1,241.2 339.8,240.9 340.7,238.4 341.5,242.1 342.3,242.0 342.8,242.7 343.4,240.5 343.9,242.3 344.4,242.8 345.0,242.6 345.8,242.9 346.6,242.2 347.3,242.7 348.0,242.6 348.5,241.7 349.2,239.5 349.7,242.5 350.4,242.0 351.3,242.6 352.0,242.4 352.6,242.1 353.4,242.0 354.1,242.9 354.7,242.5 355.4,242.0 356.1,242.3 357.0,241.4 357.7,242.2 358.3,241.3 359.1,241.0 359.8,242.3 360.4,242.7 361.3,241.6 361.8,242.6 362.6,238.7 363.5,242.0 364.1,240.3 364.9,242.7 365.7,242.6 366.5,242.7 367.2,242.2 367.9,242.8 368.4,241.9 369.2,242.7 369.9,242.8 370.6,241.6 371.2,241.4 371.9,242.1 372.6,240.5 373.5,242.9 374.1,239.7 374.8,243.0 375.5,241.8 376.2,241.7 376.7,238.8 377.2,242.1 378.0,241.9 378.8,241.1 379.3,238.6 380.1,242.7 380.6,242.7 381.3,242.3 382.1,242.0 382.6,242.8 383.1,241.1 383.6,242.5 384.1,241.3 384.7,242.1 385.5,241.2 386.3,241.5 387.1,242.8 387.8,241.8 388.7,242.8 389.3,243.0 390.1,242.3 390.7,242.4 391.5,242.9 392.3,241.9 392.9,241.3 393.7,242.0 394.5,242.9 395.2,241.0 396.0,242.9 396.6,239.2 397.4,241.1 398.3,241.2 399.1,242.2 399.6,242.8 400.3,238.5 401.1,241.3 401.9,242.5 402.6,242.2 403.1,241.1 403.8,242.4 404.4,241.9 405.3,241.8 406.1,242.2 406.8,241.3 407.3,237.9 408.1,242.6 408.7,242.4 409.5,242.8 410.4,241.9 411.0,241.8 411.4,242.9 412.1,242.9 412.6,242.4 413.1,242.3 413.8,243.0 414.5,241.4 415.1,243.0 415.6,240.1 416.2,242.9 417.0,238.5 417.8,243.0 418.3,241.1 419.2,242.3 419.9,242.1 420.5,241.8 421.1,241.6 421.6,242.0 422.4,241.9 423.3,240.9 424.1,242.1 424.8,238.1 425.6,242.5 426.2,242.5 426.9,241.7 427.4,242.6 427.9,242.3 428.6,241.6 429.4,241.7 430.1,240.9 430.6,242.1 431.4,242.2 432.1,241.6 432.6,240.8 433.5,242.1 434.1,242.1 434.9,240.8 435.3,242.3 435.9,238.4 436.5,241.4 437.4,241.3 437.9,241.1 438.7,241.8 439.2,242.5 439.7,241.2 440.5,242.6 441.1,238.7 441.7,242.1 442.5,241.0 443.3,242.0 444.2,242.9 444.8,241.0 445.4,241.5 446.1,239.3 446.8,242.1 447.5,242.9 448.1,242.4 448.9,238.3 449.8,242.5 450.5,242.0 451.4,241.7 451.9,241.0 452.3,238.8 452.9,239.1 453.6,242.7 454.1,242.7 454.5,241.4 455.2,241.8 455.8,241.2 456.7,241.3 457.5,241.0 458.3,241.4 459.2,242.4 460.0,242.3 460.6,241.4 461.5,242.9 462.3,242.1 463.0,242.9 463.6,242.6 464.2,242.1 464.8,242.0 465.3,242.8 466.2,242.8 467.0,242.0 467.8,242.7 468.4,242.9 469.1,242.5 469.7,242.3 470.3,242.1 471.0,242.5 471.6,242.5 472.1,241.8 472.7,242.3 473.3,241.3 474.1,242.6 474.8,241.1 475.5,242.6 476.2,242.2 476.7,242.4 477.4,241.5 478.3,242.6 478.9,243.0 479.5,242.2 480.0,242.4 480.5,242.4 481.2,241.7 482.1,242.2 482.7,242.7 483.5,242.8 484.1,242.7 484.9,242.8 485.7,242.1 486.5,241.1 487.3,243.0 488.0,242.8 488.8,242.4 489.5,242.7 490.0,242.6 490.7,242.8 491.5,242.4 492.0,242.1 492.7,242.1 493.6,242.8 494.4,242.2 495.1,242.0 495.5,242.5 496.4,242.5 497.3,242.5 498.1,242.4 498.8,242.9 499.5,242.1 500.2,242.6 500.9,243.0 501.5,242.6 502.4,242.5 503.2,241.6 504.1,242.5 504.6,242.7 505.5,242.9 506.1,241.6 506.8,242.2 507.3,242.6 507.9,242.6 508.4,242.8 509.0,242.0 509.6,242.6 510.3,241.4 511.0,242.6 511.7,242.6 512.3,241.7 513.1,241.8 513.7,242.8 514.4,242.1 514.8,242.3 515.6,242.2 516.2,240.9 516.9,242.4 517.5,240.9 518.2,242.4 519.0,242.0 519.8,242.3 520.7,242.3 521.4,242.5 522.3,242.4 523.1,242.3 523.9,242.8 524.5,241.5 525.0,242.3 525.7,241.3 526.3,242.1 526.8,242.4 527.4,241.6 527.9,241.2 528.5,241.1 529.0,242.8 529.5,242.8 530.4,241.5 531.1,243.0 531.7,242.5 532.2,242.1 533.0,242.9 533.7,242.2 534.4,240.9 534.9,242.5 535.5,242.4 536.3,242.3 536.9,241.7 537.7,242.7 538.2,242.4 538.9,242.1 539.5,242.1 540.2,242.4 541.1,242.9 541.9,241.6 542.4,242.7 543.0,242.7 543.8,242.8" fill="none" stroke="#333" stroke-width="0.9"/>
<line x1="17.0" y1="242.9" x2="544.5" y2="242.9" stroke="#555" stroke-width="0.8"/>
<path d="M24.20,226.1 L25.00,226.1 L25.20,238.60 L26.00,242.6 L23.20,242.6 L24.00,238.60Z" fill="#8a7852"/>
<path d="M28.20,234.2 L29.00,234.2 L29.20,239.66 L30.00,242.6 L27.20,242.6 L28.00,239.66Z" fill="#8a7852"/>
<path d="M32.30,235.2 L33.10,235.2 L33.30,240.01 L34.10,242.6 L31.30,242.6 L32.10,240.01Z" fill="#8a7852"/>
<path d="M34.85,159 L35.75,159 L35.90,238.60 L36.70,242.6 L33.90,242.6 L34.70,238.60Z" fill="#8a7852"/>
<path d="M39.05,201 L39.95,201 L40.10,238.60 L40.90,242.6 L38.10,242.6 L38.90,238.60Z" fill="#8a7852"/>
<path d="M41.70,232 L42.50,232 L42.70,238.89 L43.50,242.6 L40.70,242.6 L41.50,238.89Z" fill="#8a7852"/>
<path d="M46.70,232 L47.50,232 L47.70,238.89 L48.50,242.6 L45.70,242.6 L46.50,238.89Z" fill="#8a7852"/>
<path d="M51.75,159 L52.65,159 L52.80,238.60 L53.60,242.6 L50.80,242.6 L51.60,238.60Z" fill="#a89870"/>
<path d="M54.80,237 L55.60,237 L55.80,240.64 L56.60,242.6 L53.80,242.6 L54.60,240.64Z" fill="#8a7852"/>
<path d="M58.80,234.2 L59.60,234.2 L59.80,239.66 L60.60,242.6 L57.80,242.6 L58.60,239.66Z" fill="#8a7852"/>
<path d="M62.40,239 L63.20,239 L63.40,241.34 L64.20,242.6 L61.40,242.6 L62.20,241.34Z" fill="#8a7852"/>
<path d="M65.80,234.2 L66.60,234.2 L66.80,239.66 L67.60,242.6 L64.80,242.6 L65.60,239.66Z" fill="#8a7852"/>
<path d="M70.40,224.1 L71.20,224.1 L71.40,238.60 L72.20,242.6 L69.40,242.6 L70.20,238.60Z" fill="#a89870"/>
<path d="M72.00,226 L72.80,226 L73.00,238.60 L73.80,242.6 L71.00,242.6 L71.80,238.60Z" fill="#a89870"/>
<path d="M76.80,238 L77.60,238 L77.80,240.99 L78.60,242.6 L75.80,242.6 L76.60,240.99Z" fill="#8a7852"/>
<path d="M82.90,239 L83.70,239 L83.90,241.34 L84.70,242.6 L81.90,242.6 L82.70,241.34Z" fill="#8a7852"/>
<path d="M91.90,234 L92.70,234 L92.90,239.59 L93.70,242.6 L90.90,242.6 L91.70,239.59Z" fill="#8a7852"/>
<path d="M95.90,232 L96.70,232 L96.90,238.89 L97.70,242.6 L94.90,242.6 L95.70,238.89Z" fill="#8a7852"/>
<path d="M98.50,225.1 L99.30,225.1 L99.50,238.60 L100.30,242.6 L97.50,242.6 L98.30,238.60Z" fill="#c88870"/>
<path d="M101.30,223.1 L102.10,223.1 L102.30,238.60 L103.10,242.6 L100.30,242.6 L101.10,238.60Z" fill="#e8a0a0"/>
<path d="M125.00,233 L125.80,233 L126.00,239.24 L126.80,242.6 L124.00,242.6 L124.80,239.24Z" fill="#8a7852"/>
<path d="M125.20,234.2 L126.00,234.2 L126.20,239.66 L127.00,242.6 L124.20,242.6 L125.00,239.66Z" fill="#8a7852"/>
<path d="M126.75,204 L127.65,204 L127.80,238.60 L128.60,242.6 L125.80,242.6 L126.60,238.60Z" fill="#8e8650"/>
<path d="M128.60,233 L129.40,233 L129.60,239.24 L130.40,242.6 L127.60,242.6 L128.40,239.24Z" fill="#8a7852"/>
<path d="M133.95,203 L134.85,203 L135.00,238.60 L135.80,242.6 L133.00,242.6 L133.80,238.60Z" fill="#8e8650"/>
<path d="M138.30,228 L139.10,228 L139.30,238.60 L140.10,242.6 L137.30,242.6 L138.10,238.60Z" fill="#8a7852"/>
<path d="M152.65,216 L153.55,216 L153.70,238.60 L154.50,242.6 L151.70,242.6 L152.50,238.60Z" fill="#8a7852"/>
<path d="M158.10,237 L158.90,237 L159.10,240.64 L159.90,242.6 L157.10,242.6 L157.90,240.64Z" fill="#8a7852"/>
<path d="M163.35,215.7 L164.25,215.7 L164.40,238.60 L165.20,242.6 L162.40,242.6 L163.20,238.60Z" fill="#8a7852"/>
<path d="M174.80,237 L175.60,237 L175.80,240.64 L176.60,242.6 L173.80,242.6 L174.60,240.64Z" fill="#8a7852"/>
<path d="M178.75,218.1 L179.65,218.1 L179.80,238.60 L180.60,242.6 L177.80,242.6 L178.60,238.60Z" fill="#8a7852"/>
<path d="M188.90,234 L189.70,234 L189.90,239.59 L190.70,242.6 L187.90,242.6 L188.70,239.59Z" fill="#8a7852"/>
<path d="M192.85,167.1 L193.75,167.1 L193.90,238.60 L194.70,242.6 L191.90,242.6 L192.70,238.60Z" fill="#8a7852"/>
<path d="M196.30,236 L197.10,236 L197.30,240.29 L198.10,242.6 L195.30,242.6 L196.10,240.29Z" fill="#8a7852"/>
<path d="M198.90,235 L199.70,235 L199.90,239.94 L200.70,242.6 L197.90,242.6 L198.70,239.94Z" fill="#8a7852"/>
<path d="M203.85,220.1 L204.75,220.1 L204.90,238.60 L205.70,242.6 L202.90,242.6 L203.70,238.60Z" fill="#8a7852"/>
<path d="M208.25,185.2 L209.15,185.2 L209.30,238.60 L210.10,242.6 L207.30,242.6 L208.10,238.60Z" fill="#8a7852"/>
<path d="M215.00,225.1 L215.80,225.1 L216.00,238.60 L216.80,242.6 L214.00,242.6 L214.80,238.60Z" fill="#c83048"/>
<path d="M222.35,220.1 L223.25,220.1 L223.40,238.60 L224.20,242.6 L221.40,242.6 L222.20,238.60Z" fill="#8a7852"/>
<path d="M227.00,238 L227.80,238 L228.00,240.99 L228.80,242.6 L226.00,242.6 L226.80,240.99Z" fill="#8a7852"/>
<path d="M241.70,227.8 L242.50,227.8 L242.70,238.60 L243.50,242.6 L240.70,242.6 L241.50,238.60Z" fill="#8a7852"/>
<path d="M256.25,212.5 L257.15,212.5 L257.30,238.60 L258.10,242.6 L255.30,242.6 L256.10,238.60Z" fill="#8a7852"/>
<path d="M261.70,236.2 L262.50,236.2 L262.70,240.36 L263.50,242.6 L260.70,242.6 L261.50,240.36Z" fill="#8a7852"/>
<path d="M270.85,82.4 L271.75,82.4 L271.90,238.60 L272.70,242.6 L269.90,242.6 L270.70,238.60Z" fill="#4a3a20"/>
<path d="M273.20,237 L274.00,237 L274.20,240.64 L275.00,242.6 L272.20,242.6 L273.00,240.64Z" fill="#8a7852"/>
<path d="M280.80,236.2 L281.60,236.2 L281.80,240.36 L282.60,242.6 L279.80,242.6 L280.60,240.36Z" fill="#8a7852"/>
<path d="M285.15,207 L286.05,207 L286.20,238.60 L287.00,242.6 L284.20,242.6 L285.00,238.60Z" fill="#9a6c50"/>
<path d="M295.90,225.1 L296.70,225.1 L296.90,238.60 L297.70,242.6 L294.90,242.6 L295.70,238.60Z" fill="#8a7852"/>
<path d="M300.45,217.1 L301.35,217.1 L301.50,238.60 L302.30,242.6 L299.50,242.6 L300.30,238.60Z" fill="#8a7852"/>
<path d="M303.90,236.2 L304.70,236.2 L304.90,240.36 L305.70,242.6 L302.90,242.6 L303.70,240.36Z" fill="#8a7852"/>
<path d="M310.90,227.1 L311.70,227.1 L311.90,238.60 L312.70,242.6 L309.90,242.6 L310.70,238.60Z" fill="#8e8650"/>
<path d="M321.00,237 L321.80,237 L322.00,240.64 L322.80,242.6 L320.00,242.6 L320.80,240.64Z" fill="#8a7852"/>
<path d="M325.95,220.1 L326.85,220.1 L327.00,238.60 L327.80,242.6 L325.00,242.6 L325.80,238.60Z" fill="#8a7852"/>
<path d="M330.60,226.1 L331.40,226.1 L331.60,238.60 L332.40,242.6 L329.60,242.6 L330.40,238.60Z" fill="#8a7852"/>
<path d="M361.30,237 L362.10,237 L362.30,240.64 L363.10,242.6 L360.30,242.6 L361.10,240.64Z" fill="#8a7852"/>
<path d="M366.10,232.2 L366.90,232.2 L367.10,238.96 L367.90,242.6 L365.10,242.6 L365.90,238.96Z" fill="#8e8650"/>
<path d="M367.70,235.2 L368.50,235.2 L368.70,240.01 L369.50,242.6 L366.70,242.6 L367.50,240.01Z" fill="#8a7852"/>
<path d="M396.90,237 L397.70,237 L397.90,240.64 L398.70,242.6 L395.90,242.6 L396.70,240.64Z" fill="#8a7852"/>
<path d="M400.85,221.1 L401.75,221.1 L401.90,238.60 L402.70,242.6 L399.90,242.6 L400.70,238.60Z" fill="#8a7852"/>
<path d="M410.85,208 L411.75,208 L411.90,238.60 L412.70,242.6 L409.90,242.6 L410.70,238.60Z" fill="#c87850"/>
<path d="M412.85,222 L413.75,222 L413.90,238.60 L414.70,242.6 L411.90,242.6 L412.70,238.60Z" fill="#c83048"/>
<path d="M415.45,168.1 L416.35,168.1 L416.50,238.60 L417.30,242.6 L414.50,242.6 L415.30,238.60Z" fill="#8a7852"/>
<path d="M417.60,231 L418.40,231 L418.60,238.60 L419.40,242.6 L416.60,242.6 L417.40,238.60Z" fill="#8a7852"/>
<path d="M424.40,232.2 L425.20,232.2 L425.40,238.96 L426.20,242.6 L423.40,242.6 L424.20,238.96Z" fill="#8a7852"/>
<path d="M438.00,239 L438.80,239 L439.00,241.34 L439.80,242.6 L437.00,242.6 L437.80,241.34Z" fill="#8a7852"/>
<path d="M457.70,231.4 L458.50,231.4 L458.70,238.68 L459.50,242.6 L456.70,242.6 L457.50,238.68Z" fill="#a89870"/>
<polyline points="274.4,67.5 271.3,67.5 271.3,83" fill="none" stroke="#8a8a8a" stroke-width="0.7"/>
<text x="28" y="92.09" font-family='"Liberation Sans", sans-serif' font-size="4.7" fill="#80a838" text-anchor="middle">93.959</text>
<text x="28" y="97.19" font-family='"Liberation Sans", sans-serif' font-size="4.7" fill="#80a838" text-anchor="middle" word-spacing="0.9">a 17 2</text>
<text x="45.2" y="97.67" font-family='"Liberation Sans", sans-serif' font-size="5.2" fill="#333" text-anchor="middle">H</text>
<text x="47.1" y="72.29" font-family='"Liberation Sans", sans-serif' font-size="4.7" fill="#80a838" text-anchor="middle">157.947</text>
<text x="47.1" y="78.39" font-family='"Liberation Sans", sans-serif' font-size="4.7" fill="#80a838" text-anchor="middle" word-spacing="0.9">a 3</text>
<text x="40.1" y="110.99" font-family='"Liberation Sans", sans-serif' font-size="4.7" fill="#a48c34" text-anchor="middle">126.949</text>
<text x="40.1" y="117.49" font-family='"Liberation Sans", sans-serif' font-size="4.7" fill="#a48c34" text-anchor="middle" word-spacing="0.9">b <tspan fill="#d04040">2</tspan></text>
<text x="52.1" y="130.19" font-family='"Liberation Sans", sans-serif' font-size="4.7" fill="#55559c" text-anchor="middle">174.964</text>
<text x="52.1" y="137.09" font-family='"Liberation Sans", sans-serif' font-size="4.7" fill="#55559c" text-anchor="middle" word-spacing="0.9">y 1</text>
<text x="29.5" y="150.99" font-family='"Liberation Sans", sans-serif' font-size="4.7" fill="#a48c34" text-anchor="middle">71.949</text>
<text x="29.5" y="157.39" font-family='"Liberation Sans", sans-serif' font-size="4.7" fill="#a48c34" text-anchor="middle" word-spacing="0.9">b 1</text>
<text x="54.6" y="150.99" font-family='"Liberation Sans", sans-serif' font-size="4.7" fill="#a48c34" text-anchor="middle">185.396</text>
<text x="54.4" y="157.39" font-family='"Liberation Sans", sans-serif' font-size="4.7" fill="#a48c34" text-anchor="middle" word-spacing="0.9">b 3</text>
<text x="98.8" y="178.69" font-family='"Liberation Sans", sans-serif' font-size="4.7" fill="#a48c34" text-anchor="middle">356.030</text>
<text x="99.6" y="184.69" font-family='"Liberation Sans", sans-serif' font-size="4.7" fill="#a48c34" text-anchor="middle" word-spacing="0.9">b 4</text>
<text x="96.3" y="197.99" font-family='"Liberation Sans", sans-serif' font-size="4.7" fill="#55559c" text-anchor="middle">347.035</text>
<text x="96.3" y="204.09" font-family='"Liberation Sans", sans-serif' font-size="4.7" fill="#55559c" text-anchor="middle" word-spacing="0.9">y 3</text>
<text x="70.2" y="216.99" font-family='"Liberation Sans", sans-serif' font-size="4.7" fill="#55559c" text-anchor="middle">246.005</text>
<text x="70.2" y="222.69" font-family='"Liberation Sans", sans-serif' font-size="4.7" fill="#55559c" text-anchor="middle" word-spacing="0.9">y 2</text>
<text x="25.8" y="209.84" font-family='"Liberation Sans", sans-serif' font-size="5.4" fill="#666" text-anchor="middle">T</text>
<text x="25.8" y="219.34" font-family='"Liberation Sans", sans-serif' font-size="5.4" fill="#666" text-anchor="middle">V</text>
<text x="33.4" y="219.34" font-family='"Liberation Sans", sans-serif' font-size="5.4" fill="#d06060" text-anchor="middle">I</text>
<text x="28.7" y="230.34" font-family='"Liberation Sans", sans-serif' font-size="5.4" fill="#d06060" text-anchor="middle">L</text>
<text x="39.7" y="201.04" font-family='"Liberation Sans", sans-serif' font-size="5.4" fill="#555" text-anchor="middle">R</text>
<text x="41.9" y="219.34" font-family='"Liberation Sans", sans-serif' font-size="5.4" fill="#666" text-anchor="middle">Y</text>
<text x="43" y="228.94" font-family='"Liberation Sans", sans-serif' font-size="5.4" fill="#a05040" text-anchor="middle">K'</text>
<text x="134" y="157.39" font-family='"Liberation Sans", sans-serif' font-size="4.7" fill="#a48c34" text-anchor="middle">493.071</text>
<text x="135" y="163.09" font-family='"Liberation Sans", sans-serif' font-size="4.7" fill="#a48c34" text-anchor="middle" word-spacing="0.9">b 5</text>
<text x="126.7" y="177.59" font-family='"Liberation Sans", sans-serif' font-size="4.7" fill="#80a838" text-anchor="middle">465.098</text>
<text x="126.7" y="183.89" font-family='"Liberation Sans", sans-serif' font-size="4.7" fill="#80a838" text-anchor="middle" word-spacing="0.9">a 5</text>
<text x="138.9" y="197.39" font-family='"Liberation Sans", sans-serif' font-size="4.7" fill="#55559c" text-anchor="middle">510.072</text>
<text x="138.4" y="203.59" font-family='"Liberation Sans", sans-serif' font-size="4.7" fill="#55559c" text-anchor="middle" word-spacing="0.9">y 4</text>
<text x="163.2" y="177.09" font-family='"Liberation Sans", sans-serif' font-size="4.7" fill="#a48c34" text-anchor="middle">607.103</text>
<text x="163.2" y="183.29" font-family='"Liberation Sans", sans-serif' font-size="4.7" fill="#a48c34" text-anchor="middle" word-spacing="0.9">b 6</text>
<text x="153.1" y="137.19" font-family='"Liberation Sans", sans-serif' font-size="4.7" fill="#55559c" text-anchor="middle">567.086</text>
<text x="153.1" y="143.09" font-family='"Liberation Sans", sans-serif' font-size="4.7" fill="#55559c" text-anchor="middle" word-spacing="0.9">y 5</text>
<text x="179.2" y="210.99" font-family='"Liberation Sans", sans-serif' font-size="4.7" fill="#55559c" text-anchor="middle">666.136</text>
<text x="179.2" y="216.89" font-family='"Liberation Sans", sans-serif' font-size="4.7" fill="#55559c" text-anchor="middle" word-spacing="0.9">y 6</text>
<text x="189.3" y="139.79" font-family='"Liberation Sans", sans-serif' font-size="4.7" fill="#bca450" text-anchor="middle">725.108</text>
<text x="189.4" y="145.29" font-family='"Liberation Sans", sans-serif' font-size="4.7" fill="#bca450" text-anchor="middle" word-spacing="0.9">b 17 7</text>
<text x="193.3" y="159.69" font-family='"Liberation Sans", sans-serif' font-size="4.7" fill="#a48c34" text-anchor="middle">722.130</text>
<text x="193.3" y="165.59" font-family='"Liberation Sans", sans-serif' font-size="4.7" fill="#a48c34" text-anchor="middle" word-spacing="0.9">b 7</text>
<text x="208.3" y="179.09" font-family='"Liberation Sans", sans-serif' font-size="4.7" fill="#55559c" text-anchor="middle">780.179</text>
<text x="208.3" y="185.49" font-family='"Liberation Sans", sans-serif' font-size="4.7" fill="#55559c" text-anchor="middle" word-spacing="0.9">y 7</text>
<text x="210.4" y="100.99" font-family='"Liberation Sans", sans-serif' font-size="4.7" fill="#80a838" text-anchor="middle">790.186</text>
<text x="210.4" y="106.99" font-family='"Liberation Sans", sans-serif' font-size="4.7" fill="#80a838" text-anchor="middle" word-spacing="0.9">a 17 8</text>
<text x="215.4" y="119.09" font-family='"Liberation Sans", sans-serif' font-size="4.7" fill="#80a838" text-anchor="middle">807.214</text>
<text x="215.4" y="125.39" font-family='"Liberation Sans", sans-serif' font-size="4.7" fill="#80a838" text-anchor="middle" word-spacing="0.9">a 8</text>
<text x="222.4" y="212.99" font-family='"Liberation Sans", sans-serif' font-size="4.7" fill="#a48c34" text-anchor="middle">835.208</text>
<text x="222.4" y="218.89" font-family='"Liberation Sans", sans-serif' font-size="4.7" fill="#a48c34" text-anchor="middle" word-spacing="0.9">b 8</text>
<text x="241" y="192.79" font-family='"Liberation Sans", sans-serif' font-size="4.7" fill="#55559c" text-anchor="middle">909.228</text>
<text x="241.5" y="199.09" font-family='"Liberation Sans", sans-serif' font-size="4.7" fill="#55559c" text-anchor="middle" word-spacing="0.9">y 8</text>
<text x="256.1" y="174.09" font-family='"Liberation Sans", sans-serif' font-size="4.7" fill="#a48c34" text-anchor="middle">964.255</text>
<text x="256.1" y="180.19" font-family='"Liberation Sans", sans-serif' font-size="4.7" fill="#a48c34" text-anchor="middle" word-spacing="0.9">b 9</text>
<text x="288.2" y="66.19" font-family='"Liberation Sans", sans-serif' font-size="4.7" fill="#55559c" text-anchor="middle">1022.323</text>
<text x="288.6" y="72.09" font-family='"Liberation Sans", sans-serif' font-size="4.7" fill="#55559c" text-anchor="middle" word-spacing="0.9">y 9</text>
<text x="287.2" y="180.69" font-family='"Liberation Sans", sans-serif' font-size="4.7" fill="#a8b048" text-anchor="middle">1061.345</text>
<text x="287.2" y="186.69" font-family='"Liberation Sans", sans-serif' font-size="4.7" fill="#bca450" text-anchor="middle" word-spacing="0.9">b 17 10</text>
<text x="285.2" y="199.59" font-family='"Liberation Sans", sans-serif' font-size="4.7" fill="#a48c34" text-anchor="middle">1078.329</text>
<text x="285.2" y="205.69" font-family='"Liberation Sans", sans-serif' font-size="4.7" fill="#a48c34" text-anchor="middle" word-spacing="0.9">b 10</text>
<text x="300.3" y="160.09" font-family='"Liberation Sans", sans-serif' font-size="4.7" fill="#55559c" text-anchor="middle">1137.371</text>
<text x="300.3" y="166.59" font-family='"Liberation Sans", sans-serif' font-size="4.7" fill="#55559c" text-anchor="middle" word-spacing="0.9">y 10</text>
<text x="303.3" y="140.19" font-family='"Liberation Sans", sans-serif' font-size="4.7" fill="#80a838" text-anchor="middle">1149.412</text>
<text x="303.3" y="146.49" font-family='"Liberation Sans", sans-serif' font-size="4.7" fill="#80a838" text-anchor="middle" word-spacing="0.9">a 11</text>
<text x="311.3" y="120.79" font-family='"Liberation Sans", sans-serif' font-size="4.7" fill="#a48c34" text-anchor="middle">1177.379</text>
<text x="311.4" y="126.79" font-family='"Liberation Sans", sans-serif' font-size="4.7" fill="#a48c34" text-anchor="middle" word-spacing="0.9">b 11</text>
<text x="325.4" y="195.99" font-family='"Liberation Sans", sans-serif' font-size="4.7" fill="#a48c34" text-anchor="middle">1234.404</text>
<text x="325.4" y="202.29" font-family='"Liberation Sans", sans-serif' font-size="4.7" fill="#a48c34" text-anchor="middle" word-spacing="0.9">b 12</text>
<text x="328.4" y="214.99" font-family='"Liberation Sans", sans-serif' font-size="4.7" fill="#55559c" text-anchor="middle">1251.423</text>
<text x="328.4" y="221.49" font-family='"Liberation Sans", sans-serif' font-size="4.7" fill="#55559c" text-anchor="middle" word-spacing="0.9">y 11</text>
<text x="365.1" y="225.09" font-family='"Liberation Sans", sans-serif' font-size="4.7" fill="#55559c" text-anchor="middle">1388.554</text>
<text x="365.1" y="231.59" font-family='"Liberation Sans", sans-serif' font-size="4.7" fill="#55559c" text-anchor="middle" word-spacing="0.9">y 12</text>
<text x="368.1" y="204.99" font-family='"Liberation Sans", sans-serif' font-size="4.7" fill="#a48c34" text-anchor="middle">1397.540</text>
<text x="368.1" y="211.49" font-family='"Liberation Sans", sans-serif' font-size="4.7" fill="#a48c34" text-anchor="middle" word-spacing="0.9">b 13</text>
<text x="394.2" y="186.19" font-family='"Liberation Sans", sans-serif' font-size="4.7" fill="#a48c34" text-anchor="middle">1498.591</text>
<text x="394.2" y="192.19" font-family='"Liberation Sans", sans-serif' font-size="4.7" fill="#a48c34" text-anchor="middle" word-spacing="0.9">b 14</text>
<text x="409.3" y="162.49" font-family='"Liberation Sans", sans-serif' font-size="4.7" fill="#55559c" text-anchor="middle">1558.697</text>
<text x="410.3" y="168.59" font-family='"Liberation Sans", sans-serif' font-size="4.7" fill="#55559c" text-anchor="middle" word-spacing="0.9">y 13</text>
<text x="412.9" y="122.49" font-family='"Liberation Sans", sans-serif' font-size="4.7" fill="#a48c34" text-anchor="middle">1569.882</text>
<text x="412.9" y="128.59" font-family='"Liberation Sans", sans-serif' font-size="4.7" fill="#a48c34" text-anchor="middle" word-spacing="0.9">b 15</text>
<text x="424.8" y="142.59" font-family='"Liberation Sans", sans-serif' font-size="4.7" fill="#55559c" text-anchor="middle">1615.764</text>
<text x="424.8" y="148.69" font-family='"Liberation Sans", sans-serif' font-size="4.7" fill="#55559c" text-anchor="middle" word-spacing="0.9">y 14</text>
<text x="439.6" y="231.19" font-family='"Liberation Sans", sans-serif' font-size="4.7" fill="#55559c" text-anchor="middle">1672.929</text>
<text x="439.6" y="237.69" font-family='"Liberation Sans", sans-serif' font-size="4.7" fill="#55559c" text-anchor="middle" word-spacing="0.9">y 15</text>
<text x="453.6" y="212.09" font-family='"Liberation Sans", sans-serif' font-size="4.7" fill="#a48c34" text-anchor="middle">1726.088</text>
<text x="452.9" y="217.69" font-family='"Liberation Sans", sans-serif' font-size="4.7" fill="#a48c34" text-anchor="middle" word-spacing="0.9">b 16</text>
<text x="458" y="192.99" font-family='"Liberation Sans", sans-serif' font-size="4.7" fill="#55559c" text-anchor="middle">1743.858</text>
<text x="458.7" y="198.89" font-family='"Liberation Sans", sans-serif' font-size="4.7" fill="#55559c" text-anchor="middle" word-spacing="0.9">y 16</text>
<line x1="34.6" y1="95.8" x2="43" y2="95.8" stroke="#777" stroke-width="0.6"/>
<line x1="35.6" y1="95.8" x2="35.6" y2="159" stroke="#aaa" stroke-width="0.6"/>
</svg>
</body></html>
